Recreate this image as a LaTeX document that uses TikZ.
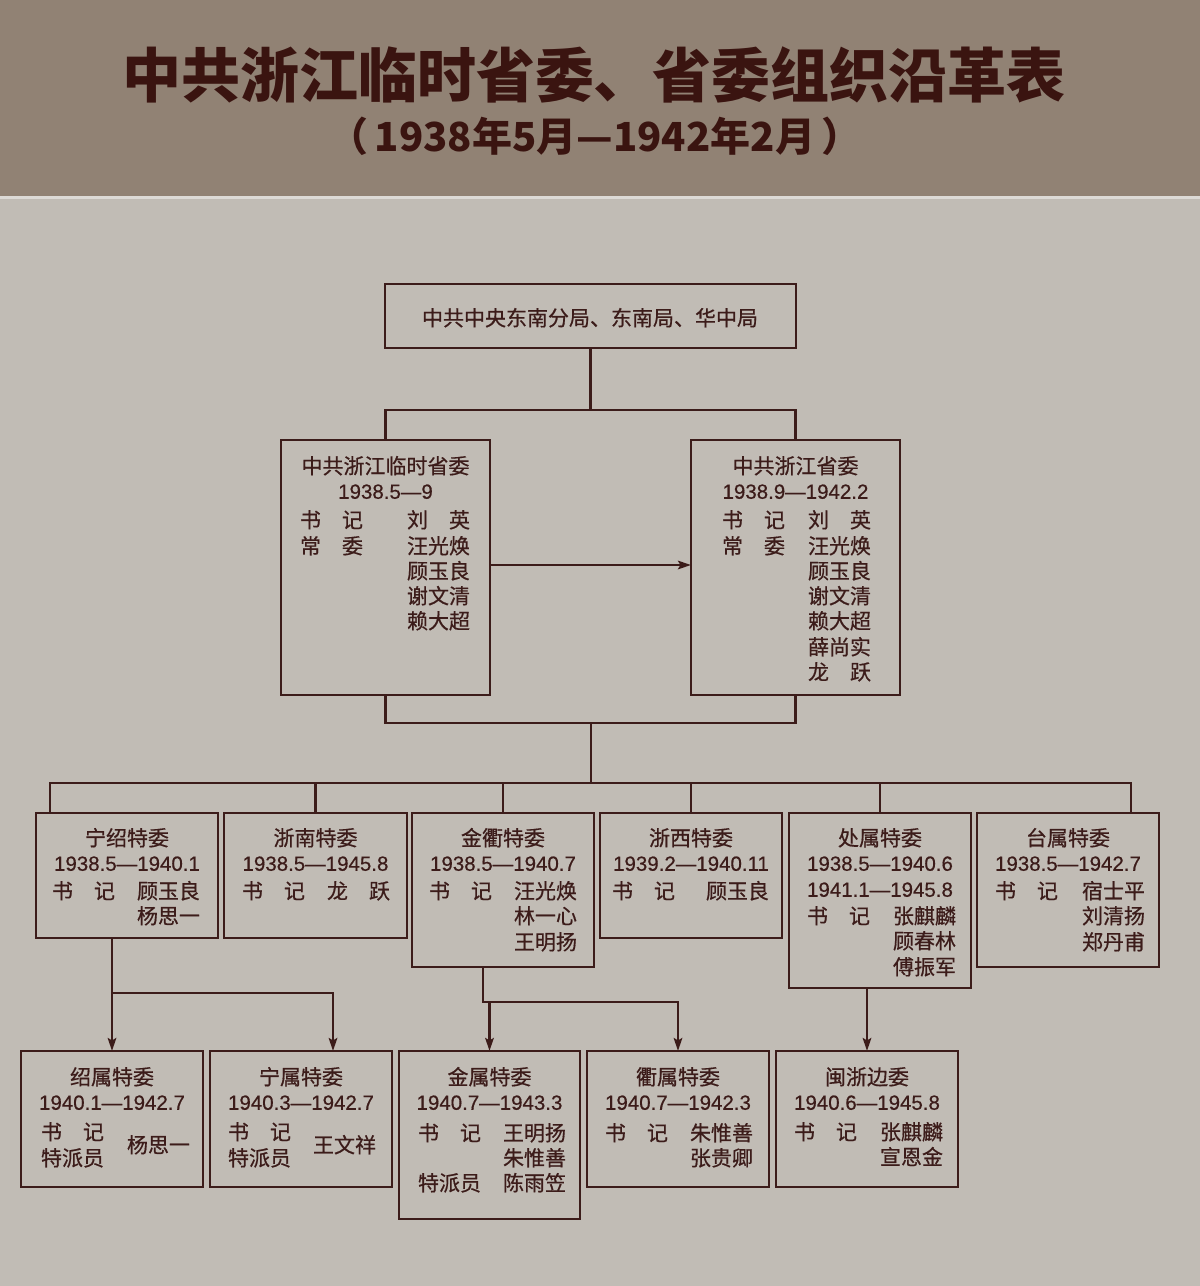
\documentclass[tikz,border=0pt]{standalone}
\usepackage{fontspec}
\setmainfont{Noto Sans CJK SC}[RawFeature={embolden=0.6}]
\newfontfamily\ttlfont{Noto Sans CJK SC}
\newfontfamily\dg{Liberation Sans}[RawFeature={embolden=0.5}]
\usetikzlibrary{arrows.meta}
\definecolor{hdr}{RGB}{145,130,116}
\definecolor{bg}{RGB}{193,188,181}
\definecolor{ink}{RGB}{60,28,26}
\definecolor{ttl}{RGB}{58,20,16}
\newcommand\orgbox[5]{\node[obox, minimum width={#4-#2}, minimum height={#5-#3}] (#1) at ({(#2+#4)/2},{(#3+#5)/2}) {};}
\begin{document}
\begin{tikzpicture}[x=1pt,y=-1pt,
  obox/.style={draw=ink, line width=2.6pt, inner sep=0pt, outer sep=0pt, rectangle},
  txt/.style={text=ink, inner sep=0pt, outer sep=0pt, text height=18pt, text depth=2.5pt, font=\fontsize{21}{24}\selectfont},
  lt/.style={txt, anchor=west},
  dt/.style={txt, font=\dg\fontsize{20.5}{24}\selectfont},
  conn/.style={draw=ink, line width=2.5pt},
  arr/.style={conn, -{Stealth[length=13pt,width=8.5pt,inset=2.5pt]}},
  ttlstyle/.style={text=ttl, inner sep=0pt}]
\fill[bg] (0,0) rectangle (1200,1286);
\useasboundingbox (0,0) rectangle (1200,1286);
\fill[hdr] (0,0) rectangle (1200,196);
\fill[bg!55!white] (0,196) rectangle (1200,199);
\node[ttlstyle, font=\ttlfont\fontsize{59}{62}\selectfont\bfseries] (title) at (594,75) {中共浙江临时省委、省委组织沿革表};
\node[ttlstyle, font=\ttlfont\fontsize{40}{44}\selectfont\bfseries] (subtitle) at (595,136) {（\,1938年5月—1942年2月\,）};

% boxes
\orgbox{tb}{385}{284}{796}{348}
\orgbox{lp}{281}{440}{490}{695}
\orgbox{rp}{691}{440}{900}{695}
\orgbox{b1}{36}{813}{218}{938}
\orgbox{b2}{224}{813}{407}{938}
\orgbox{b3}{412}{813}{594}{967}
\orgbox{b4}{600}{813}{782}{938}
\orgbox{b5}{789}{813}{971}{988}
\orgbox{b6}{977}{813}{1159}{967}
\orgbox{c1}{21}{1051}{203}{1187}
\orgbox{c2}{210}{1051}{392}{1187}
\orgbox{c3}{399}{1051}{580}{1219}
\orgbox{c4}{587}{1051}{769}{1187}
\orgbox{c5}{776}{1051}{958}{1187}

% connectors
\coordinate (j1) at (591,410);
\coordinate (j2) at (591,723);
\coordinate (j3) at (591,783);
\coordinate (d1) at (50,813);
\coordinate (d6) at (1131,813);
\coordinate (h1) at (112,993);
\coordinate (a2) at (333,1051);
\coordinate (k3) at (483,967);
\coordinate (h3) at (483,1002);
\coordinate (ar) at (0,565);
\draw[conn] (tb.south) -- (tb.south |- j1);
\draw[conn] (lp.north) -- (lp.north |- j1) -| (rp.north);
\draw[arr] (lp.east |- ar) -- (rp.west |- ar);
\draw[conn] (lp.south) -- (lp.south |- j2) -| (rp.south);
\draw[conn] (j2) -- (j3);
\draw[conn] (d1) -- (d1 |- j3) -- (d6 |- j3) -- (d6);
\draw[conn] (b2.north) -- (b2.north |- j3);
\draw[conn] (b3.north) -- (b3.north |- j3);
\draw[conn] (b4.north) -- (b4.north |- j3);
\draw[conn] (b5.north) -- (b5.north |- j3);
\draw[arr] (c1.north |- b1.south) -- (c1.north);
\draw[arr] (h1) -| (a2);
\draw[conn] (k3) -- (h3) -- (c3.north |- h3);
\draw[arr] (c3.north |- h3) -- (c3.north);
\draw[arr] (c3.north |- h3) -| (c4.north);
\draw[arr] (c5.north |- b5.south) -- (c5.north);

% top box
\node[txt] (tbt) at (590,318) {中共中央东南分局、东南局、华中局};

% left province committee
\node[txt] (lpt) at (385.5,466) {中共浙江临时省委};
\node[dt] (lpd) at (385.5,491) {1938.5—9};
\node[lt] (lpr1) at (300,520) {书\quad 记};
\node[lt] (lpn1) at (407,520) {刘\quad 英};
\node[lt] (lpr2) at (300,546) {常\quad 委};
\node[lt] (lpn2) at (407,546) {汪光焕};
\node[lt] (lpn3) at (407,571) {顾玉良};
\node[lt] (lpn4) at (407,596) {谢文清};
\node[lt] (lpn5) at (407,621) {赖大超};

% right province committee
\node[txt] (rpt) at (795.5,466) {中共浙江省委};
\node[dt] (rpd) at (795.5,491) {1938.9—1942.2};
\node[lt] (rpr1) at (722,520) {书\quad 记};
\node[lt] (rpn1) at (808,520) {刘\quad 英};
\node[lt] (rpr2) at (722,546) {常\quad 委};
\node[lt] (rpn2) at (808,546) {汪光焕};
\node[lt] (rpn3) at (808,571) {顾玉良};
\node[lt] (rpn4) at (808,596) {谢文清};
\node[lt] (rpn5) at (808,621) {赖大超};
\node[lt] (rpn6) at (808,647) {薛尚实};
\node[lt] (rpn7) at (808,672) {龙\quad 跃};

% row 2
\node[txt] (b1t) at (127,838) {宁绍特委};
\node[dt] (b1d) at (127,863) {1938.5—1940.1};
\node[lt] (b1r) at (52,891) {书\quad 记};
\node[lt] (b1n1) at (137,891) {顾玉良};
\node[lt] (b1n2) at (137,916) {杨思一};

\node[txt] (b2t) at (315.5,838) {浙南特委};
\node[dt] (b2d) at (315.5,863) {1938.5—1945.8};
\node[lt] (b2r) at (242,891) {书\quad 记};
\node[lt] (b2n1) at (327,891) {龙\quad 跃};

\node[txt] (b3t) at (503,838) {金衢特委};
\node[dt] (b3d) at (503,863) {1938.5—1940.7};
\node[lt] (b3r) at (429,891) {书\quad 记};
\node[lt] (b3n1) at (514,891) {汪光焕};
\node[lt] (b3n2) at (514,916) {林一心};
\node[lt] (b3n3) at (514,942) {王明扬};

\node[txt] (b4t) at (691,838) {浙西特委};
\node[dt] (b4d) at (691,863) {1939.2—1940.11};
\node[lt] (b4r) at (612,891) {书\quad 记};
\node[lt] (b4n1) at (706,891) {顾玉良};

\node[txt] (b5t) at (880,838) {处属特委};
\node[dt] (b5d1) at (880,863) {1938.5—1940.6};
\node[dt] (b5d2) at (880,889) {1941.1—1945.8};
\node[lt] (b5r) at (807,916) {书\quad 记};
\node[lt] (b5n1) at (893,916) {张麒麟};
\node[lt] (b5n2) at (893,941) {顾春林};
\node[lt] (b5n3) at (893,967) {傅振军};

\node[txt] (b6t) at (1068,838) {台属特委};
\node[dt] (b6d) at (1068,863) {1938.5—1942.7};
\node[lt] (b6r) at (995,891) {书\quad 记};
\node[lt] (b6n1) at (1082,891) {宿士平};
\node[lt] (b6n2) at (1082,916) {刘清扬};
\node[lt] (b6n3) at (1082,942) {郑丹甫};

% row 3
\node[txt] (c1t) at (112,1077) {绍属特委};
\node[dt] (c1d) at (112,1102) {1940.1—1942.7};
\node[lt] (c1r1) at (41,1132) {书\quad 记};
\node[lt] (c1r2) at (41,1158) {特派员};
\node[lt] (c1n) at (127,1145) {杨思一};

\node[txt] (c2t) at (301,1077) {宁属特委};
\node[dt] (c2d) at (301,1102) {1940.3—1942.7};
\node[lt] (c2r1) at (228,1132) {书\quad 记};
\node[lt] (c2r2) at (228,1158) {特派员};
\node[lt] (c2n) at (313,1145) {王文祥};

\node[txt] (c3t) at (489.5,1077) {金属特委};
\node[dt] (c3d) at (489.5,1102) {1940.7—1943.3};
\node[lt] (c3r1) at (418,1133) {书\quad 记};
\node[lt] (c3n1) at (503,1133) {王明扬};
\node[lt] (c3n2) at (503,1158) {朱惟善};
\node[lt] (c3r2) at (418,1183) {特派员};
\node[lt] (c3n3) at (503,1183) {陈雨笠};

\node[txt] (c4t) at (678,1077) {衢属特委};
\node[dt] (c4d) at (678,1102) {1940.7—1942.3};
\node[lt] (c4r) at (605,1133) {书\quad 记};
\node[lt] (c4n1) at (690,1133) {朱惟善};
\node[lt] (c4n2) at (690,1158) {张贵卿};

\node[txt] (c5t) at (867,1077) {闽浙边委};
\node[dt] (c5d) at (867,1102) {1940.6—1945.8};
\node[lt] (c5r) at (794,1132) {书\quad 记};
\node[lt] (c5n1) at (880,1132) {张麒麟};
\node[lt] (c5n2) at (880,1157) {宣恩金};
\end{tikzpicture}
\end{document}
